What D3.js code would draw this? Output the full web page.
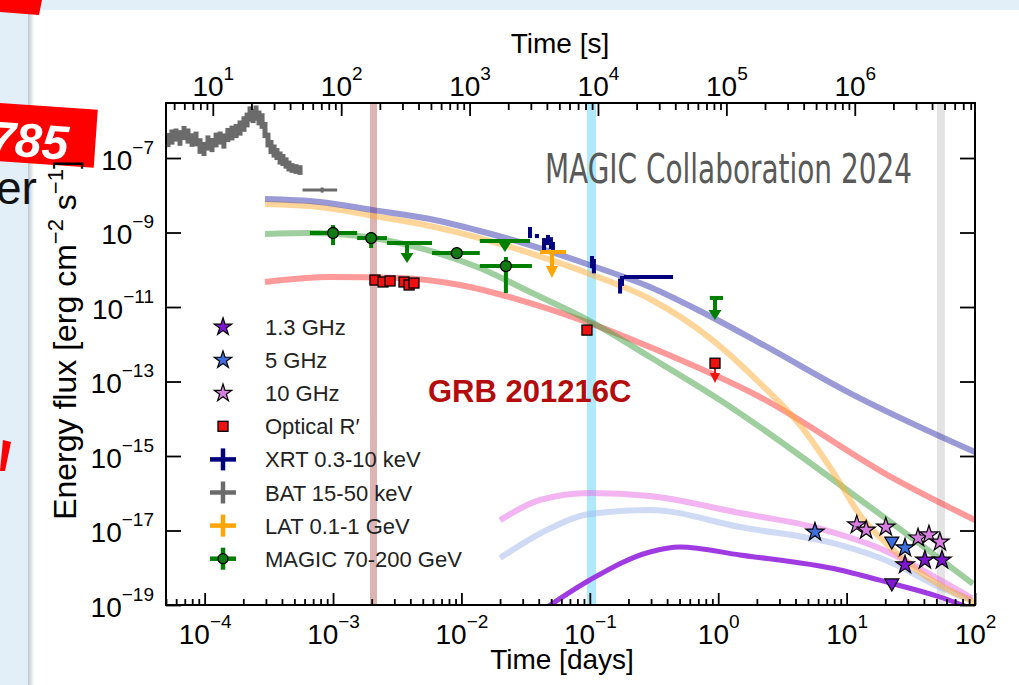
<!DOCTYPE html>
<html>
<head>
<meta charset="utf-8">
<script src="https://cdn.jsdelivr.net/npm/d3@7"></script>
<style>
body { margin: 0; background: #fff; }
svg { display: block; }
</style>
</head>
<body>
<script>
// ---- data: times in days unless noted, flux in erg cm^-2 s^-1 ----

// BAT 15-50 keV light curve (time in seconds), relative errors
var batT = [4.48, 4.81, 5.17, 5.55, 5.97, 6.41, 6.89, 7.40, 7.95, 8.54, 9.17, 9.86, 10.6, 11.4, 12.2, 13.1, 14.1, 15.2, 16.3,
            17.5, 18.5, 19.5, 20.6, 21.7, 22.9, 24.2, 25.5, 26.9, 28.4, 30.0, 31.6, 33.4, 35.2, 37.2, 39.2, 41.4, 44.4, 47.8];
var batF = [3.04e-7, 3.66e-7, 4.14e-7, 3.44e-7, 4.69e-7, 3.89e-7, 3.04e-7, 3.24e-7, 2.10e-7, 1.75e-7, 2.53e-7, 2.23e-7, 3.04e-7,
            3.44e-7, 2.86e-7, 4.14e-7, 4.69e-7, 5.31e-7, 6.38e-7, 8.18e-7, 1.05e-6, 1.52e-6, 1.34e-6, 1.61e-6, 1.19e-6, 9.84e-7,
            5.65e-7, 3.04e-7, 1.97e-7, 1.54e-7, 1.28e-7, 1.0e-7, 8.83e-8, 7.35e-8, 6.10e-8, 5.40e-8, 5.07e-8, 4.76e-8];
var batE = [0.55, 0.60, 0.50, 0.62, 0.55, 0.60, 0.52, 0.58, 0.62, 0.55, 0.60, 0.55, 0.58, 0.50, 0.60, 0.55, 0.58, 0.55, 0.60,
            0.62, 0.58, 0.60, 0.55, 0.60, 0.58, 0.62, 0.65, 0.58, 0.55, 0.50, 0.45, 0.50, 0.45, 0.42, 0.40, 0.35, 0.35, 0.35];
// [t, tlo, thi, F, Flo, Fhi], seconds
var batLate = [[71, 50, 93, 1.38e-8, 1.18e-8, 1.62e-8]];

// [t, tlo, thi, F, Flo, Fhi]
var xrtPts = [
  [0.0342, 0.0337, 0.0347, 1.03e-9, 7.1e-10, 1.41e-9],
  [0.0387, 0.0378, 0.0398, 8.05e-10, 7.1e-10, 9.1e-10],
  [0.0440, 0.0432, 0.0452, 4.9e-10, 3.4e-10, 7.1e-10],
  [0.0472, 0.0462, 0.0482, 6.3e-10, 4.6e-10, 8.6e-10],
  [0.0498, 0.0488, 0.0508, 5.2e-10, 3.6e-10, 7.5e-10],
  [0.0516, 0.0506, 0.0526, 4.35e-10, 3.4e-10, 5.6e-10],
  [0.104, 0.1025, 0.1055, 1.61e-10, 1.11e-10, 2.34e-10],
  [0.1076, 0.106, 0.109, 1.26e-10, 8.0e-11, 1.95e-10],
  [0.172, 0.170, 0.175, 3.66e-11, 2.3e-11, 5.8e-11],
  [0.178, 0.175, 0.181, 4.99e-11, 3.7e-11, 6.8e-11],
  [0.198, 0.1845, 0.445, 6.4e-11, 5.7e-11, 7.2e-11]
];
var magicPts = [
  [1.0e-3, 6.6e-4, 1.54e-3, 9.7e-10, 4.6e-10, 1.58e-9],
  [1.98e-3, 1.54e-3, 2.63e-3, 7.1e-10, 3.84e-10, 1.03e-9],
  [9.2e-3, 5.9e-3, 0.0139, 2.8e-10, 2.3e-10, 3.4e-10],
  [0.0222, 0.0139, 0.0354, 1.26e-10, 2.38e-11, 2.2e-10]
];
// upper limits [t, tlo, thi, F, arrow end]
var magicUL = [
  [3.77e-3, 2.63e-3, 5.9e-3, 5.2e-10, 1.52e-10],
  [0.0218, 0.0139, 0.0342, 5.9e-10, 3.0e-10],
  [0.944, 0.86, 1.09, 1.75e-11, 4.5e-12]
];
var latUL = [[0.0507, 0.0409, 0.0652, 3.0e-10, 6.0e-11]];
// optical [t, F]
var optPts = [[2.12e-3, 5.3e-11], [2.45e-3, 4.7e-11], [2.78e-3, 5.0e-11], [3.57e-3, 4.7e-11],
              [3.91e-3, 3.9e-11], [4.27e-3, 4.4e-11], [0.095, 2.4e-12], [0.944, 3.1e-13]];
var optUL = [[0.944, 0.944, 0.944, 3.1e-13, 9.1e-14]];
// radio [t, F]
var radio10 = [[12.0, 1.41e-17], [14.2, 1.03e-17], [20.2, 1.24e-17], [36.0, 6.3e-18], [43.8, 7.6e-18], [53.3, 4.9e-18]];
var radio5 = [[5.67, 9.1e-18], [28.5, 3.4e-18]];
var radio5UL = [[22.5, 5.2e-18]];
var radio13 = [[28.5, 1.19e-18], [40.7, 1.61e-18], [55.3, 1.61e-18]];
var radio13UL = [[22.5, 3.9e-19]];

// model curves [t, F]
var modelXRT = [[2.95e-4, 7.9e-9], [7.9e-4, 6.6e-9], [2.05e-3, 4.0e-9], [5.7e-3, 2.3e-9], [0.0139, 1.1e-9], [0.0342, 4.6e-10],
                [0.100, 1.34e-10], [0.294, 3.44e-11], [0.721, 7.8e-12], [2.11, 1.08e-12], [10.6, 4.9e-14], [100, 1.28e-15]];
var modelLAT = [[2.95e-4, 5.8e-9], [7.9e-4, 4.8e-9], [2.05e-3, 2.8e-9], [5.7e-3, 1.5e-9], [0.0139, 7.1e-10], [0.0342, 2.8e-10],
                [0.100, 7.7e-11], [0.294, 1.64e-11], [0.863, 1.47e-12], [2.11, 9.1e-14], [4.33, 6.8e-15], [8.41, 2.56e-16],
                [12.7, 2.6e-17], [21.8, 3.6e-18], [42.3, 5.6e-19], [69.8, 2.1e-19], [100, 1.2e-19]];
var modelMAGIC = [[2.95e-4, 9.1e-10], [6.6e-4, 9.7e-10], [2.05e-3, 7.1e-10], [5.37e-3, 3.4e-10], [0.0139, 1.11e-10],
                  [0.0342, 2.53e-11], [0.100, 4.2e-12], [0.294, 4.55e-13], [1.03, 3.2e-14], [15.2, 4.3e-17], [96.4, 3.7e-19]];
var modelOpt = [[2.95e-4, 4.7e-11], [9.46e-4, 6.4e-11], [3.32e-3, 6.0e-11], [9.75e-3, 3.9e-11], [0.0286, 1.54e-11],
                [0.100, 3.7e-12], [0.294, 8.4e-13], [2.11, 3.84e-14], [23.0, 2.56e-16], [100, 1.9e-17]];
var model10 = [[0.020, 1.9e-17], [0.041, 6.6e-17], [0.100, 1.02e-16], [0.294, 8.4e-17], [1.476, 2.95e-17], [5.88, 1.17e-17],
               [21.8, 2.5e-18], [53.3, 4.7e-19], [94.6, 1.54e-19]];
var model5 = [[0.020, 1.83e-18], [0.0463, 1.03e-17], [0.100, 2.77e-17], [0.294, 3.55e-17], [1.476, 1.24e-17], [8.87, 4.1e-18],
              [21.8, 1.43e-18], [53.3, 3.0e-19], [94.6, 1.36e-19]];
var model13 = [[0.041, 6.5e-20], [0.100, 4.7e-19], [0.294, 2.65e-18], [0.504, 3.6e-18], [1.476, 2.2e-18], [8.87, 8.7e-19],
               [21.8, 3.9e-19], [53.3, 1.64e-19], [91.4, 8.3e-20]];

// vertical bands [tlo, thi]
var bands = [[1.94e-3, 2.20e-3], [0.095, 0.1117], [50.6, 58.3]];

var legendLabels = ["1.3 GHz", "5 GHz", "10 GHz", "Optical R\u2032", "XRT 0.3-10 keV", "BAT 15-50 keV", "LAT 0.1-1 GeV", "MAGIC 70-200 GeV"];
var yTickValues = [1e-19, 1e-17, 1e-15, 1e-13, 1e-11, 1e-9, 1e-7];

// ---- layout ----
var width = 1019, height = 685;
var box = {left: 166, right: 975, top: 103, bottom: 605};
var font = "'Liberation Sans', Arimo, Arial, sans-serif";

var cBAT = "#6b6b6b", cXRT = "#00007f", cLAT = "#ffa500", cMAGIC = "#008000", cOpt = "#ee1111",
    c13 = "#7d16cf", c5 = "#3d6fdc", c10 = "#d57ee0";

var x = d3.scaleLog().domain([5e-5, 100]).range([box.left, box.right]);
var xs = d3.scaleLog().domain([5e-5 * 86400, 100 * 86400]).range([box.left, box.right]);
var y = d3.scaleLog().domain([1e-19, 3e-6]).range([box.bottom, box.top]);

var svg = d3.select("body").append("svg")
    .attr("width", width)
    .attr("height", height);

// ---- slide surroundings ----
svg.append("rect").attr("width", width).attr("height", height).attr("fill", "#fff");
svg.append("rect").attr("width", width).attr("height", 10).attr("fill", "#e2eef8");
svg.append("rect").attr("width", 28).attr("height", height).attr("fill", "#e2eef8");
var grad = svg.append("defs").append("linearGradient").attr("id", "shade");
grad.append("stop").attr("offset", "0").attr("stop-color", "#b9c6d0");
grad.append("stop").attr("offset", "1").attr("stop-color", "#ffffff");
svg.append("rect").attr("x", 28).attr("y", 10).attr("width", 6).attr("height", height - 10).attr("fill", "url(#shade)");
svg.append("path").attr("d", "M0,0L42,0L39,15L0,12Z").attr("fill", "#ff0000");
var tag = svg.append("g").attr("transform", "rotate(4,0,103)");
tag.append("rect").attr("x", -10).attr("y", 103).attr("width", 108).attr("height", 58).attr("fill", "#ff0000");
tag.append("text").attr("x", -9).attr("y", 155).attr("fill", "#fff").attr("font-family", font)
    .attr("font-weight", "bold").attr("font-style", "italic").attr("font-size", 48).text("785");
svg.append("text").attr("x", -4).attr("y", 204).attr("fill", "#111").attr("font-family", font)
    .attr("font-size", 46).text("er");
svg.append("path").attr("d", "M3,440L11,442L5,471L0,471Z").attr("fill", "#ff0000");

// ---- plot area ----
svg.append("clipPath").attr("id", "plotclip").append("rect")
    .attr("x", box.left).attr("y", box.top).attr("width", box.right - box.left).attr("height", box.bottom - box.top);
var plot = svg.append("g").attr("clip-path", "url(#plotclip)");

plot.selectAll(".band").data(bands).enter().append("rect")
    .attr("class", "band")
    .attr("x", function(d) { return x(d[0]); })
    .attr("width", function(d) { return x(d[1]) - x(d[0]); })
    .attr("y", box.top).attr("height", box.bottom - box.top)
    .attr("fill", function(d, i) { return ["#ddb3b3", "#aeeafc", "#e3e3e3"][i]; });

var line = d3.line()
    .x(function(d) { return x(d[0]); })
    .y(function(d) { return y(d[1]); })
    .curve(d3.curveMonotoneX);

var models = [
  {d: model5, c: "#9fb5eb", o: 0.5, w: 6},
  {d: model10, c: "#e56be5", o: 0.5, w: 6},
  {d: model13, c: "#9b30e0", o: 0.95, w: 5},
  {d: modelOpt, c: "#ff3535", o: 0.5, w: 6},
  {d: modelMAGIC, c: "#40a040", o: 0.5, w: 6},
  {d: modelLAT, c: "#ffab35", o: 0.5, w: 6},
  {d: modelXRT, c: "#3535b0", o: 0.5, w: 6}
];
plot.selectAll(".model").data(models).enter().append("path")
    .attr("class", "model")
    .attr("d", function(m) { return line(m.d); })
    .attr("fill", "none")
    .attr("stroke", function(m) { return m.c; })
    .attr("stroke-opacity", function(m) { return m.o; })
    .attr("stroke-width", function(m) { return m.w; });

function errorbars(g, rows, color, w, sx) {
    sx = sx || x;
    g.selectAll(null).data(rows).enter().append("line")
        .attr("x1", function(d) { return sx(d[1]); })
        .attr("x2", function(d) { return sx(d[2]); })
        .attr("y1", function(d) { return y(d[3]); })
        .attr("y2", function(d) { return y(d[3]); })
        .attr("stroke", color).attr("stroke-width", w);
    g.selectAll(null).data(rows).enter().append("line")
        .attr("x1", function(d) { return sx(d[0]); })
        .attr("x2", function(d) { return sx(d[0]); })
        .attr("y1", function(d) { return y(d[4]); })
        .attr("y2", function(d) { return y(d[5]); })
        .attr("stroke", color).attr("stroke-width", w);
}

function upperLimits(g, rows, color, w, headW, headH) {
    g.selectAll(null).data(rows).enter().append("line")
        .attr("x1", function(d) { return x(d[1]); })
        .attr("x2", function(d) { return x(d[2]); })
        .attr("y1", function(d) { return y(d[3]); })
        .attr("y2", function(d) { return y(d[3]); })
        .attr("stroke", color).attr("stroke-width", w);
    g.selectAll(null).data(rows).enter().append("line")
        .attr("x1", function(d) { return x(d[0]); })
        .attr("x2", function(d) { return x(d[0]); })
        .attr("y1", function(d) { return y(d[3]); })
        .attr("y2", function(d) { return y(d[4]) - headH + 1; })
        .attr("stroke", color).attr("stroke-width", w);
    g.selectAll(null).data(rows).enter().append("path")
        .attr("d", function(d) {
            var cx = x(d[0]), tip = y(d[4]);
            return "M" + (cx - headW / 2) + "," + (tip - headH) + "L" + (cx + headW / 2) + "," + (tip - headH) + "L" + cx + "," + tip + "Z";
        })
        .attr("fill", color);
}

// BAT: contiguous bins between neighbouring samples
var batRows = batT.map(function(t, i) {
    var lo = i > 0 ? Math.sqrt(t * batT[i - 1]) : t / Math.sqrt(batT[1] / t);
    var hi = i < batT.length - 1 ? Math.sqrt(t * batT[i + 1]) : t * Math.sqrt(t / batT[i - 1]);
    return [t, lo, hi, batF[i], batF[i] / (1 + batE[i]), batF[i] * (1 + batE[i])];
});
var pts = plot.append("g");
errorbars(pts.append("g"), batRows, cBAT, 5, xs);
errorbars(pts.append("g"), batLate, cBAT, 3, xs);
errorbars(pts.append("g"), xrtPts, cXRT, 4);
upperLimits(pts.append("g"), latUL, cLAT, 4, 12, 12);
upperLimits(pts.append("g"), magicUL, cMAGIC, 4, 13, 10);
errorbars(pts.append("g"), magicPts, cMAGIC, 4);
pts.append("g").selectAll("circle").data(magicPts).enter().append("circle")
    .attr("cx", function(d) { return x(d[0]); })
    .attr("cy", function(d) { return y(d[3]); })
    .attr("r", 5.5).attr("fill", "#127a12").attr("stroke", "#000").attr("stroke-width", 1.3);
upperLimits(pts.append("g"), optUL, cOpt, 2, 10, 10);
pts.append("g").selectAll("rect").data(optPts).enter().append("rect")
    .attr("x", function(d) { return x(d[0]) - 5; })
    .attr("y", function(d) { return y(d[1]) - 5; })
    .attr("width", 10).attr("height", 10)
    .attr("fill", cOpt).attr("stroke", "#000").attr("stroke-width", 1.3);

var star = d3.symbol().type(d3.symbolStar).size(105);
var tri = d3.symbol().type(d3.symbolTriangle).size(85);
function radio(rows, color, sym, flip) {
    pts.append("g").selectAll("path").data(rows).enter().append("path")
        .attr("d", sym)
        .attr("transform", function(d) { return "translate(" + x(d[0]) + "," + y(d[1]) + ")" + (flip ? " rotate(180)" : ""); })
        .attr("fill", color).attr("stroke", "#000").attr("stroke-width", 1.2);
}
radio(radio10, c10, star, false);
radio(radio5UL, c5, tri, true);
radio(radio5, c5, star, false);
radio(radio13UL, c13, tri, true);
radio(radio13, c13, star, false);

// ---- legend ----
var legend = svg.append("g").selectAll(".legend")
    .data(legendLabels)
    .enter().append("g")
    .attr("class", "legend")
    .attr("transform", function(d, i) { return "translate(223," + (327 + i * 33.1) + ")"; });
legend.append("text")
    .attr("x", 42).attr("y", 8)
    .attr("font-family", font).attr("font-size", 22).attr("fill", "#222")
    .text(function(d) { return d; });
legend.each(function(d, i) {
    var g = d3.select(this);
    if (i < 3) {
        g.append("path").attr("d", d3.symbol().type(d3.symbolStar).size(95))
            .attr("fill", [c13, c5, c10][i]).attr("stroke", "#000").attr("stroke-width", 1.2);
    } else if (i == 3) {
        g.append("rect").attr("x", -5).attr("y", -5).attr("width", 10).attr("height", 10)
            .attr("fill", cOpt).attr("stroke", "#000").attr("stroke-width", 1.3);
    } else {
        var c = [cXRT, cBAT, cLAT, cMAGIC][i - 4];
        g.append("line").attr("x1", -13).attr("x2", 13).attr("stroke", c).attr("stroke-width", 4.5);
        g.append("line").attr("y1", -11).attr("y2", 11).attr("stroke", c).attr("stroke-width", 4.5);
        if (i == 7) g.append("circle").attr("r", 5).attr("fill", "#127a12").attr("stroke", "#000").attr("stroke-width", 1.3);
    }
});

// ---- axes ----
function isMajor(d) { var l = Math.log10(d); return Math.abs(l - Math.round(l)) < 1e-6; }
function supText(d) { return String(Math.round(Math.log10(d))).replace("-", "\u2212"); }
function powLabels(g, xpos, ypos, supDy) {
    g.selectAll(".tick text").each(function(d) {
        var t = d3.select(this).attr("x", xpos).attr("y", ypos).attr("dy", null);
        t.text(null);
        t.append("tspan").text("10");
        t.append("tspan").attr("dy", supDy).attr("font-size", 19).text(supText(d));
    });
}
function customAxis(g, axis) {
    g.call(axis);
    g.select(".domain").remove();
    g.attr("font-family", font).attr("font-size", 28);
    g.selectAll(".tick line").attr("stroke", "#000").attr("stroke-width", 1.8);
}

var xMajor = x.ticks().filter(isMajor), xMinor = x.ticks().filter(function(d) { return !isMajor(d); });
var sMajor = xs.ticks().filter(isMajor), sMinor = xs.ticks().filter(function(d) { return !isMajor(d); });

var gb = svg.append("g").attr("transform", "translate(0," + box.bottom + ")");
customAxis(gb.append("g"), d3.axisBottom(x).tickValues(xMinor).tickSize(-6).tickFormat(""));
var gbm = gb.append("g");
customAxis(gbm, d3.axisBottom(x).tickValues(xMajor).tickSize(-12));
powLabels(gbm, 0, 39, -16);

var gt = svg.append("g").attr("transform", "translate(0," + box.top + ")");
customAxis(gt.append("g"), d3.axisTop(xs).tickValues(sMinor).tickSize(-7).tickFormat(""));
var gtm = gt.append("g");
customAxis(gtm, d3.axisTop(xs).tickValues(sMajor).tickSize(-13));
powLabels(gtm, 0, -7, -16);

var gl = svg.append("g").attr("transform", "translate(" + box.left + ",0)");
customAxis(gl, d3.axisLeft(y).tickValues(yTickValues).tickSize(-15));
powLabels(gl, -12, 11, -16);

var gr = svg.append("g").attr("transform", "translate(" + box.right + ",0)");
customAxis(gr, d3.axisRight(y).tickValues(yTickValues).tickSize(-15).tickFormat(""));

svg.append("rect")
    .attr("x", box.left).attr("y", box.top).attr("width", box.right - box.left).attr("height", box.bottom - box.top)
    .attr("fill", "none").attr("stroke", "#000").attr("stroke-width", 2);

// ---- titles and annotations ----
svg.append("text").attr("x", 562).attr("y", 669).attr("text-anchor", "middle")
    .attr("font-family", font).attr("font-size", 28).text("Time [days]");
svg.append("text").attr("x", 560).attr("y", 53).attr("text-anchor", "middle")
    .attr("font-family", font).attr("font-size", 28).text("Time [s]");

var ylab = svg.append("text")
    .attr("transform", "translate(76,340) rotate(-90)")
    .attr("text-anchor", "middle")
    .attr("font-family", font).attr("font-size", 32);
ylab.append("tspan").text("Energy flux [erg cm");
ylab.append("tspan").attr("dy", -13).attr("font-size", 22).text("\u22122");
ylab.append("tspan").attr("dy", 13).text(" s");
ylab.append("tspan").attr("dy", -13).attr("font-size", 22).text("\u22121");
ylab.append("tspan").attr("dy", 13).text("]");

svg.append("text").attr("x", 428).attr("y", 402)
    .attr("font-family", font).attr("font-weight", "bold").attr("font-size", 31)
    .attr("fill", "#b30c0c").text("GRB 201216C");

svg.append("text").attr("x", 545).attr("y", 183)
    .attr("font-family", "'DejaVu Sans Condensed', 'Liberation Sans Narrow', sans-serif").attr("font-size", 41)
    .attr("textLength", 367).attr("lengthAdjust", "spacingAndGlyphs")
    .attr("fill", "#595959").text("MAGIC Collaboration 2024");
</script>
</body>
</html>
